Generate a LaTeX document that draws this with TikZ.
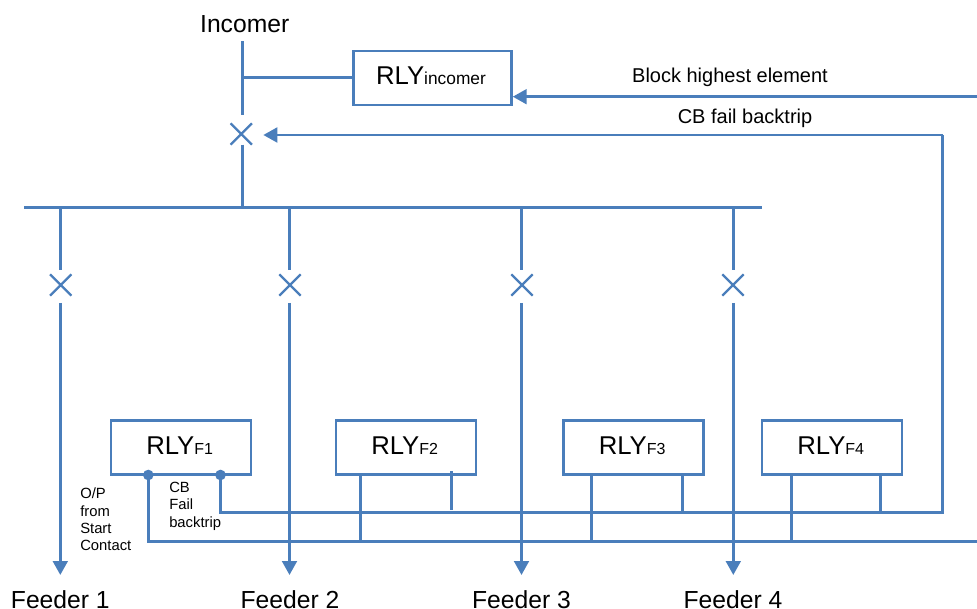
\documentclass[tikz,border=0pt]{standalone}
\usepackage{fontspec}
\setmainfont{Liberation Sans}
\usetikzlibrary{shapes.misc,arrows.meta}
\definecolor{linecol}{HTML}{4A7EBB}
\tikzset{
  x=0.75pt,y=-0.75pt,
  wire/.style={draw=linecol,line width=2.2pt},
  arrowed/.style={wire,-{Triangle[length=10.5pt,width=11pt]}},
  breaker/.style={cross out,draw=linecol,line width=1.7pt,minimum size=16pt,inner sep=0pt,outer sep=0pt},
  relaybox/.style={draw=linecol,line width=2.2pt,fill=white,minimum width=105pt,minimum height=40.5pt,inner sep=0pt,text=black},
  bigtext/.style={font=\fontsize{18.5pt}{22pt}\selectfont,text=black,inner sep=0pt,anchor=base},
  midtext/.style={font=\fontsize{15pt}{18pt}\selectfont,text=black,inner sep=0pt,anchor=base},
  smalltext/.style={font=\fontsize{11.1pt}{12.95pt}\selectfont,text=black,inner sep=0pt,align=left},
  dot/.style={circle,fill=linecol,minimum size=8pt,inner sep=0pt},
}
\newcommand{\rly}[3]{\hspace*{-2pt}\raisebox{#3}{\fontsize{19.3pt}{22pt}\selectfont RLY\fontsize{#2}{14pt}\selectfont #1}}
\begin{document}
\begin{tikzpicture}
\useasboundingbox (0,0) rectangle (977,609);
% breakers
\node[breaker] (cbI) at (241.3,134) {};
\node[breaker] (cb1) at (60.7,285) {};
\node[breaker] (cb2) at (290,285) {};
\node[breaker] (cb3) at (522,285) {};
\node[breaker] (cb4) at (733,285) {};
% relays
\node[relaybox,minimum width=118.5pt] (rI) at (432.3,78) {\rly{incomer}{13pt}{3.4pt}};
\node[relaybox] (r1) at (181,447.5) {\rly{F1}{12pt}{2.3pt}};
\node[relaybox] (r2) at (406,447.5) {\rly{F2}{12pt}{2.3pt}};
\node[relaybox] (r3) at (633.5,447.5) {\rly{F3}{12pt}{2.3pt}};
\node[relaybox] (r4) at (832,447.5) {\rly{F4}{12pt}{2.3pt}};
% labels
\node[bigtext] (tI) at (244.7,33) {Incomer};
\node[bigtext] (f1) at (60.3,608.5) {Feeder 1};
\node[bigtext] (f2) at (290,608.5) {Feeder 2};
\node[bigtext] (f3) at (521.5,608.5) {Feeder 3};
\node[bigtext] (f4) at (733,608.5) {Feeder 4};
\node[midtext] (tB) at (730,82.5) {Block highest element};
\node[midtext] (tC) at (745,124) {CB fail backtrip};
\node[smalltext,anchor=north west] (tS) at (80,488) {O/P\\from\\Start\\Contact};
\node[smalltext,anchor=north west] (tF) at (169,482) {CB\\Fail\\backtrip};
% coordinates
\coordinate (inTop) at (242.3,41.5);
\coordinate (inTap) at (242.3,77.3);
\coordinate (inBus) at (242.3,207.5);
\coordinate (busL) at (24,207.5);
\coordinate (busR) at (762,207.5);
\coordinate (b1) at (60.3,207.5);
\coordinate (b2) at (289.5,207.5);
\coordinate (b3) at (521.5,207.5);
\coordinate (b4) at (733.3,207.5);
\coordinate (a1) at (60.3,575);
\coordinate (a2) at (289.5,575);
\coordinate (a3) at (521.5,575);
\coordinate (a4) at (733.3,575);
\coordinate (blockR) at (977,96.7);
\coordinate (blockT) at (512.7,96.7);
\coordinate (failC) at (942.7,135);
\coordinate (failB) at (942.7,512.3);
\coordinate (failS) at (220.5,512.3);
\coordinate (startS) at (148.3,541.3);
\coordinate (startR) at (977,541.3);
\coordinate (d1) at (148.3,475);
\coordinate (d2) at (220.5,475);
% bus and incomer
\draw[wire] (busL) -- (busR);
\draw[wire,shorten >=6pt] (inTop) -- (inTop |- cbI.north);
\draw[wire] (inTap) -- (inTap -| rI.west);
\draw[wire] (inBus |- cbI.south) -- (inBus);
% feeders
\foreach \i in {1,2,3,4}{
  \draw[wire,shorten >=3.2pt] (b\i) -- (b\i |- cb\i.north);
  \draw[arrowed] ([yshift=-5.5pt]a\i |- cb\i.south) -- (a\i);
}
% trip signals
\draw[arrowed] (blockR) -- (blockT);
\draw[arrowed,shorten >=8.5pt] (failC) -- (failC -| cbI.east);
\draw[wire,line join=miter] (d2) -- (failS) -- (failB) -- (failC);
\draw[wire,line join=miter] (d1) -- (startS) -- (startR);
\node[dot] (dot1) at (d1) {};
\node[dot] (dot2) at (d2) {};
% relay outputs
\coordinate (s2) at (360.3,474); \coordinate (t2) at (451.3,471);
\coordinate (s3) at (591.7,474); \coordinate (t3) at (682.3,473);
\coordinate (s4) at (791.3,474); \coordinate (t4) at (880.3,474);
\coordinate (t2end) at (451.3,509.5);
\foreach \i in {2,3,4}{
  \draw[wire] (s\i) -- (s\i |- startS);
}
\draw[wire] (t2) -- (t2end);
\foreach \i in {3,4}{
  \draw[wire] (t\i) -- (t\i |- failS);
}
\end{tikzpicture}
\end{document}
